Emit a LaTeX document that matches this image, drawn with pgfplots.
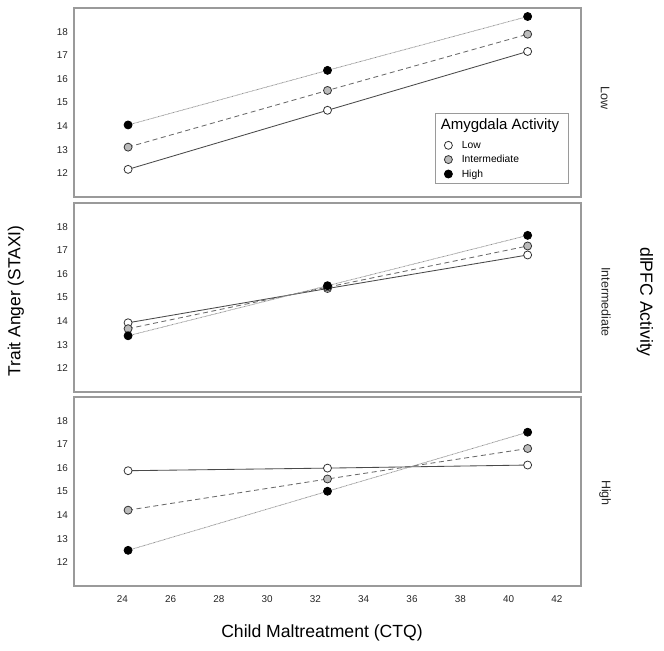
\documentclass[border=0pt]{standalone}
\usepackage{pgfplots}
\pgfplotsset{compat=1.18}
\usepackage{fontspec}
\setmainfont{Liberation Sans}
\definecolor{frame}{HTML}{9A9A9A}
\definecolor{midgray}{HTML}{BBBBBB}
\definecolor{linedark}{HTML}{4A4A4A}
\definecolor{linemid}{HTML}{6A6A6A}
\definecolor{linelight}{HTML}{8A8A8A}
\definecolor{markedge}{HTML}{333333}
\pgfplotsset{
  panel/.style={
    scale only axis, width=507bp, height=189bp,
    xmin=22, xmax=43, ymin=11, ymax=19,
    xtick={24,26,...,42}, ytick={12,...,18},
    major tick length=0pt,
    axis line style={frame, line width=1.3bp},
    tick label style={font=\fontsize{9.9bp}{11bp}\selectfont, text=black!85},
    /pgf/number format/assume math mode=true,
    yticklabel style={xshift=-2.5bp},
    xticklabel style={yshift=-6bp},
    clip=false,
    legend image code/.code={\path (0bp,0bp) (16bp,0bp); \draw[##1] plot coordinates {(5bp,0bp)};},
  },
  lowser/.style={color=linedark, line width=0.85bp, mark=*, mark size=4bp,
    mark options={solid, fill=white, draw=markedge, line width=0.8bp}},
  intser/.style={color=linemid, line width=0.85bp, dash pattern=on 5bp off 3.5bp, mark=*, mark size=4bp,
    mark options={solid, fill=midgray, draw=markedge, line width=0.8bp}},
  highser/.style={color=linelight, line width=0.75bp, dash pattern=on 0.7bp off 0.6bp, mark=*, mark size=4bp,
    mark options={solid, fill=black, draw=black, line width=0.8bp}},
}
\begin{document}
\begin{tikzpicture}
\useasboundingbox (0,0) rectangle (664bp,-651bp);
% ---- top panel: dlPFC Low
\begin{axis}[panel, at={(74bp,-8bp)}, anchor=north west, xticklabels={},
  legend cell align=left,
  legend style={at={(0.9757,0.0688)}, anchor=south east, draw=frame, line width=1bp,
    font=\fontsize{10.3bp}{12bp}\selectfont, row sep=1.5bp, inner xsep=7bp, inner ysep=3bp}]
\addlegendimage{empty legend}
\addlegendentry{\hspace{-21bp}\raisebox{5bp}{\fontsize{15bp}{17bp}\selectfont Amygdala Activity}}
\addplot[lowser] coordinates {(24.24,12.17) (32.5,14.67) (40.79,17.16)};
\addlegendentry{Low}
\addplot[intser] coordinates {(24.24,13.11) (32.5,15.51) (40.79,17.89)};
\addlegendentry{Intermediate}
\addplot[highser] coordinates {(24.24,14.05) (32.5,16.36) (40.79,18.64)};
\addlegendentry{High}
\end{axis}
% ---- middle panel: dlPFC Intermediate
\begin{axis}[panel, at={(74bp,-203bp)}, anchor=north west, xticklabels={}]
\addplot[lowser] coordinates {(24.24,13.93) (32.5,15.38) (40.79,16.80)};
\addplot[intser] coordinates {(24.24,13.68) (32.5,15.44) (40.79,17.18)};
\addplot[highser] coordinates {(24.24,13.38) (32.5,15.50) (40.79,17.63)};
\end{axis}
% ---- bottom panel: dlPFC High
\begin{axis}[panel, at={(74bp,-397bp)}, anchor=north west]
\addplot[lowser] coordinates {(24.24,15.88) (32.5,15.99) (40.79,16.12)};
\addplot[intser] coordinates {(24.24,14.21) (32.5,15.53) (40.79,16.82)};
\addplot[highser] coordinates {(24.24,12.51) (32.5,15.01) (40.79,17.51)};
\end{axis}
% ---- labels
\node[font=\fontsize{17.6bp}{20bp}\selectfont] at (322bp,-633bp) {Child Maltreatment (CTQ)};
\node[font=\fontsize{17.4bp}{20bp}\selectfont, rotate=90] at (16bp,-301bp) {Trait Anger (STAXI)};
\node[font=\fontsize{17.6bp}{20bp}\selectfont, rotate=-90] at (645bp,-302bp) {dlPFC Activity};
\node[font=\fontsize{12.5bp}{14bp}\selectfont, rotate=-90, text=black!85] at (605bp,-98bp) {Low};
\node[font=\fontsize{12.5bp}{14bp}\selectfont, rotate=-90, text=black!85] at (606bp,-302bp) {Intermediate};
\node[font=\fontsize{12.5bp}{14bp}\selectfont, rotate=-90, text=black!85] at (605bp,-493bp) {High};
\end{tikzpicture}
\end{document}
